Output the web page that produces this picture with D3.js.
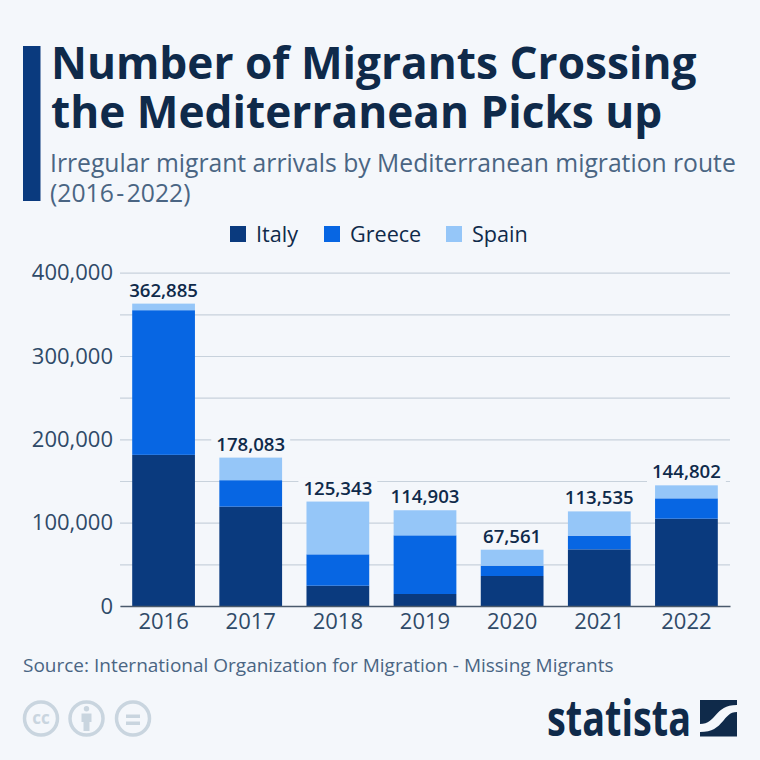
<!DOCTYPE html>
<html>
<head>
<meta charset="utf-8">
<script src="https://cdn.jsdelivr.net/npm/d3@7"></script>
<style>
  html, body { margin: 0; padding: 0; background: #f4f7fb; }
  svg { display: block; font-family: "Open Sans", sans-serif; }
</style>
</head>
<body>
<div id="chart"></div>
<script>
// values
const years = ['2016', '2017', '2018', '2019', '2020', '2021', '2022'];
const italy = [181400, 119300, 24400, 14400, 36000, 68000, 104800];
const greece = [173600, 31700, 37600, 70400, 12400, 16400, 24400];
const spain = [7885, 27083, 63343, 30103, 19161, 29135, 15602];
const totals = [362885, 178083, 125343, 114903, 67561, 113535, 144802];
const seriesNames = ['Italy', 'Greece', 'Spain'];
const seriesColors = ['#0a3a7e', '#0766e3', '#95c6f8'];
const yTicks = [0, 50000, 100000, 150000, 200000, 250000, 300000, 350000, 400000];

const titleLines = ['Number of Migrants Crossing', 'the Mediterranean Picks up'];
const subtitleLines = ['Irregular migrant arrivals by Mediterranean migration route', '(2016-2022)'];
const sourceText = 'Source: International Organization for Migration - Missing Migrants';

const bg = '#f4f7fb';
const svg = d3.select('#chart').append('svg').attr('width', 760).attr('height', 760);
svg.append('rect').attr('width', 760).attr('height', 760).attr('fill', bg);

// header
svg.append('rect').attr('x', 23).attr('y', 46).attr('width', 17.5).attr('height', 155).attr('fill', '#0a3a7e');
svg.selectAll('.title').data(titleLines).join('text')
  .attr('class', 'title')
  .attr('x', 51).attr('y', (d, i) => 79 + i * 49)
  .attr('font-size', 44.2).attr('font-weight', 700).attr('fill', '#0f2a4a')
  .text(d => d);

// the hyphen in the year range sits a little apart from the digits
svg.selectAll('.subtitle').data(subtitleLines).join('text')
  .attr('class', 'subtitle')
  .attr('x', 50).attr('y', (d, i) => 172 + i * 30)
  .attr('font-size', 24.7).attr('fill', '#4a6583')
  .selectAll('tspan').data(d => d.startsWith('(') ? d.split(/(-)/) : [d]).join('tspan')
  .attr('dx', (d, i) => i > 0 ? 2.5 : null)
  .text(d => d);

// legend
const legendX = [230, 324, 446];
const legend = svg.selectAll('.legend').data(seriesNames).join('g')
  .attr('class', 'legend')
  .attr('transform', (d, i) => `translate(${legendX[i]},226)`);
legend.append('rect').attr('width', 16).attr('height', 16).attr('fill', (d, i) => seriesColors[i]);
legend.append('text').attr('x', 26).attr('y', 16)
  .attr('font-size', 21.6).attr('fill', '#0f2a4a').text(d => d);

// scales
const margin = { left: 120, right: 730, top: 272.7, bottom: 606 };
const x = d3.scaleBand().domain(years).range([margin.left, margin.right]).paddingInner(0.28).paddingOuter(0.14);
const y = d3.scaleLinear().domain([0, 400000]).range([margin.bottom, margin.top]);

// axes
const yAxis = svg.append('g').attr('transform', `translate(${margin.left},0)`)
  .call(d3.axisLeft(y).tickValues(yTicks).tickSize(0).tickPadding(7)
    .tickFormat(d => d % 100000 === 0 ? d3.format(',')(d) : ''));
yAxis.select('.domain').remove();
yAxis.selectAll('text').attr('font-family', '"Open Sans", sans-serif').attr('font-size', 22).attr('fill', '#2f4a68');
yAxis.selectAll('line').attr('x2', margin.right - margin.left).attr('stroke', '#c8d2dc').attr('stroke-width', 1.2);

// plates behind the totals go between gridlines and bars
const plates = svg.append('g');

// bars
const stacked = d3.stack().keys([0, 1, 2]).value((d, k) => d[k])(years.map((yr, i) => [italy[i], greece[i], spain[i]]));
svg.selectAll('.series').data(stacked).join('g')
  .attr('class', 'series')
  .attr('fill', (d, i) => seriesColors[i])
  .selectAll('rect').data(d => d).join('rect')
  .attr('x', (d, i) => x(years[i]))
  .attr('width', x.bandwidth())
  .attr('y', d => y(d[1]))
  .attr('height', d => y(d[0]) - y(d[1]));

const xAxis = svg.append('g').attr('transform', `translate(0,${margin.bottom})`)
  .call(d3.axisBottom(x).tickSize(0).tickPadding(7));
xAxis.select('.domain').attr('stroke', '#4a5a6c').attr('stroke-width', 1.3);
xAxis.selectAll('text').attr('font-family', '"Open Sans", sans-serif').attr('font-size', 22).attr('fill', '#2f4a68');

// total labels
const totalLabels = svg.selectAll('.total').data(totals).join('text')
  .attr('class', 'total')
  .attr('x', (d, i) => x(years[i]) + x.bandwidth() / 2)
  .attr('y', d => y(d) - 7)
  .attr('text-anchor', 'middle')
  .attr('font-size', 18.6).attr('font-weight', 600).attr('fill', '#0f2a4a')
  .text(d => d3.format(',')(d));
totalLabels.each(function(d, i) {
  const w = this.getComputedTextLength() + 10;
  plates.append('rect')
    .attr('x', x(years[i]) + x.bandwidth() / 2 - w / 2)
    .attr('y', y(d) - 24)
    .attr('width', w).attr('height', 24)
    .attr('fill', bg);
});

// source
svg.append('text').attr('x', 23).attr('y', 672)
  .attr('font-size', 19).attr('fill', '#4a6583').text(sourceText);

// licence icons
const ccGrey = '#c9d5df';
const cc = svg.append('g');
[41, 86.5, 133].forEach(cx => {
  cc.append('circle').attr('cx', cx).attr('cy', 718.5).attr('r', 16.5)
    .attr('fill', 'none').attr('stroke', ccGrey).attr('stroke-width', 3.5);
});
cc.append('text').attr('x', 41).attr('y', 723.5).attr('text-anchor', 'middle')
  .attr('font-size', 17).attr('font-weight', 700).attr('fill', ccGrey).text('cc');
cc.append('circle').attr('cx', 86.5).attr('cy', 708.7).attr('r', 2.7).attr('fill', ccGrey);
cc.append('rect').attr('x', 81.5).attr('y', 713.5).attr('width', 10).attr('height', 8.5).attr('fill', ccGrey);
cc.append('rect').attr('x', 83.5).attr('y', 722).attr('width', 6).attr('height', 9).attr('fill', ccGrey);
cc.append('rect').attr('x', 126).attr('y', 714.5).attr('width', 14).attr('height', 3.5).attr('fill', ccGrey);
cc.append('rect').attr('x', 126).attr('y', 721.5).attr('width', 14).attr('height', 3.5).attr('fill', ccGrey);

// logo
svg.append('text')
  .attr('transform', 'translate(547,736) scale(0.757,1)')
  .attr('font-size', 50).attr('font-weight', 700).attr('fill', '#0f2a4a').text('statista');
svg.append('rect').attr('x', 700).attr('y', 700).attr('width', 37).attr('height', 36.5).attr('fill', '#0f2a4a');
svg.append('path')
  .attr('d', 'M700 724 C717 724 714 705 737 705 L737 712 C722 712 725 732 700 732 Z')
  .attr('fill', bg);
</script>
</body>
</html>
